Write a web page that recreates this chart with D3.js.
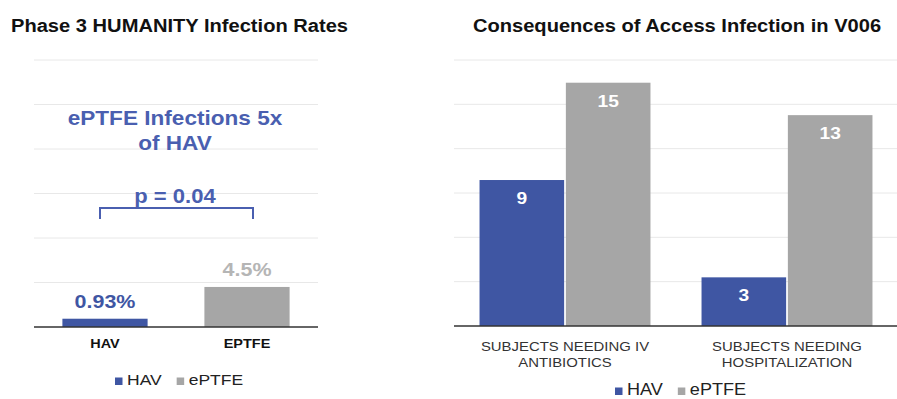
<!DOCTYPE html>
<html>
<head>
<meta charset="utf-8">
<script src="https://cdn.jsdelivr.net/npm/d3@7"></script>
<style>
  body { margin: 0; background: #fff; }
  svg { font-family: "Liberation Sans", Arial, sans-serif; }
</style>
</head>
<body>
<svg id="chart" width="897" height="399"></svg>
<script>
// left panel data
const rateCats = ["HAV", "EPTFE"];
const rateValues = [0.93, 4.5];
const rateLabels = ["0.93%", "4.5%"];
const rateTicks = [0, 5, 10, 15, 20, 25, 30];

// right panel data
const groups = ["SUBJECTS NEEDING IV|ANTIBIOTICS", "SUBJECTS NEEDING|HOSPITALIZATION"];
const seriesNames = ["HAV", "ePTFE"];
const havCounts = [9, 3];
const eptfeCounts = [15, 13];
const countMax = 16.4;

const BLUE = "#3f56a3", GRAY = "#a6a6a6", ANNOT = "#4a5fb0";
const SX = 1.13; // the source text is a bit wide

const svg = d3.select("#chart");

// text that gets stretched horizontally around its anchor
function label(parent, x, y, str, size, opts = {}) {
  const g = parent.append("g").attr("transform", `translate(${x},${y}) scale(${SX},1)`);
  const t = g.append("text")
    .attr("font-size", size)
    .attr("font-weight", opts.weight || "normal")
    .attr("fill", opts.fill || "#111")
    .attr("text-anchor", opts.anchor || "middle")
    .text(str);
  return t;
}

// ---------- left chart ----------
const L = { left: 34, right: 318, top: 60, bottom: 327 };
const xL = d3.scaleBand().domain(rateCats).range([L.left, L.right]).paddingInner(0.4).paddingOuter(0.2);
const yL = d3.scaleLinear().domain([0, 30]).range([L.bottom, L.top]);

label(svg, 11, 32, "Phase 3 HUMANITY Infection Rates", 17.8, { weight: "bold", anchor: "start" });

svg.append("g").selectAll("line").data(rateTicks.slice(1)).join("line")
  .attr("x1", L.left).attr("x2", L.right)
  .attr("y1", d => yL(d)).attr("y2", d => yL(d))
  .attr("stroke", "#e8e8e8").attr("stroke-width", 1);

svg.append("g").selectAll("rect").data(rateValues).join("rect")
  .attr("x", (d, i) => xL(rateCats[i]))
  .attr("width", xL.bandwidth())
  .attr("y", d => yL(d))
  .attr("height", d => yL(0) - yL(d))
  .attr("fill", (d, i) => i === 0 ? BLUE : GRAY);

svg.append("line").attr("x1", L.left).attr("x2", L.right)
  .attr("y1", yL(0)).attr("y2", yL(0)).attr("stroke", "#333").attr("stroke-width", 1.5);

rateValues.forEach((v, i) => {
  label(svg, xL(rateCats[i]) + xL.bandwidth() / 2, yL(v) - 11, rateLabels[i], 19,
    { weight: "bold", fill: i === 0 ? BLUE : "#b5b5b5" });
});

rateCats.forEach(c => {
  label(svg, xL(c) + xL.bandwidth() / 2, 348, c, 12.8, { weight: "bold" });
});

// annotation
label(svg, 175, 125, "ePTFE Infections 5x", 20, { weight: "bold", fill: ANNOT });
label(svg, 175, 150, "of HAV", 20, { weight: "bold", fill: ANNOT });
label(svg, 175, 203, "p = 0.04", 19.5, { weight: "bold", fill: ANNOT });
const bx1 = xL("HAV") + xL.bandwidth() / 2 - 5, bx2 = xL("EPTFE") + xL.bandwidth() / 2 + 6;
svg.append("path")
  .attr("d", `M${bx1},219 V208 H${bx2} V219`)
  .attr("fill", "none").attr("stroke", ANNOT).attr("stroke-width", 2);

// legend
function legend(x, y, size) {
  let cx = x;
  seriesNames.forEach((name, i) => {
    svg.append("rect").attr("x", cx).attr("y", y - 7.5).attr("width", 7.5).attr("height", 7.5)
      .attr("fill", i === 0 ? BLUE : GRAY);
    const t = label(svg, cx + 12, y, name, size, { anchor: "start", fill: "#222" });
    cx += 12 + t.node().getComputedTextLength() * SX + 15;
  });
}
legend(115, 385, 15.5);

// ---------- right chart ----------
const R = { left: 454, right: 898, top: 60, bottom: 326 };
const x0 = d3.scaleBand().domain(groups).range([R.left, R.right]).paddingInner(0.23).paddingOuter(0.115);
const x1 = d3.scaleBand().domain(seriesNames).range([0, x0.bandwidth()]).paddingInner(0.02);
const yR = d3.scaleLinear().domain([0, countMax]).range([R.bottom, R.top]);

label(svg, 677, 32, "Consequences of Access Infection in V006", 17.8, { weight: "bold" });

svg.append("g").selectAll("line").data(d3.range(1, 7).map(i => i * countMax / 6)).join("line")
  .attr("x1", R.left).attr("x2", R.right)
  .attr("y1", d => yR(d)).attr("y2", d => yR(d))
  .attr("stroke", "#e8e8e8").attr("stroke-width", 1);

const rows = groups.map((g, i) => ({ g, vals: [havCounts[i], eptfeCounts[i]] }));
const gg = svg.append("g").selectAll("g").data(rows).join("g")
  .attr("transform", d => `translate(${x0(d.g)},0)`);
gg.selectAll("rect").data(d => d.vals).join("rect")
  .attr("x", (d, i) => x1(seriesNames[i]))
  .attr("width", x1.bandwidth())
  .attr("y", d => yR(d))
  .attr("height", d => yR(0) - yR(d))
  .attr("fill", (d, i) => i === 0 ? BLUE : GRAY);
gg.each(function (d) {
  const g = d3.select(this);
  d.vals.forEach((v, i) => {
    label(g, x1(seriesNames[i]) + x1.bandwidth() / 2, yR(v) + 24, v, 17, { weight: "bold", fill: "#fff" });
  });
});

svg.append("line").attr("x1", R.left).attr("x2", R.right)
  .attr("y1", yR(0)).attr("y2", yR(0)).attr("stroke", "#333").attr("stroke-width", 1.5);

groups.forEach(grp => {
  grp.split("|").forEach((line, k) => {
    label(svg, x0(grp) + x0.bandwidth() / 2, 351 + k * 16, line, 13.2, { fill: "#333" });
  });
});

legend(615, 395, 16);
</script>
</body>
</html>
